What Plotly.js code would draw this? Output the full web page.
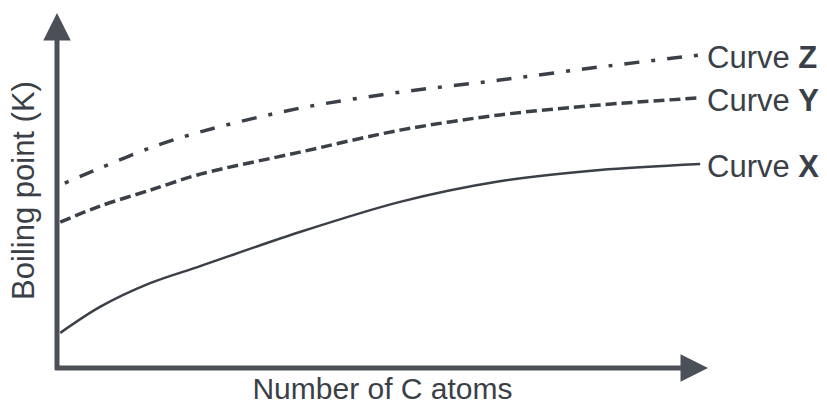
<!DOCTYPE html>
<html>
<head>
<meta charset="utf-8">
<script src="https://cdn.plot.ly/plotly-3.0.1.min.js"></script>
<style>html,body{margin:0;padding:0;background:#fff;}#chart{width:827px;height:405px;}</style>
</head>
<body>
<div id="chart"></div>
<script>
// Number of C atoms (arbitrary scale, no ticks in reference)
const carbonAtoms  = [0.05, 0.66, 1.43, 2.2, 3.73, 5.27, 6.8, 8.34, 9.88];
const carbonAtomsZ = [0.12, 0.66, 1.43, 2.2, 3.73, 5.27, 6.8, 8.34, 9.88];
// Boiling point (arbitrary scale)
const curveX = [9.9, 17.2, 23.9, 28.7, 38.3, 46.8, 52.6, 55.8, 57.5];
const curveY = [41.1, 45.6, 50.1, 54.6, 60.8, 67.0, 71.3, 74.1, 76.1];
const curveZ = [52.1, 56.3, 62.0, 66.5, 73.2, 77.7, 81.1, 84.8, 88.2];
const curveNames = ["X", "Y", "Z"];

const ink = "#3a3f48";
const font = "Liberation Sans, Arial, sans-serif";

const traces = [
  {x: carbonAtoms, y: curveX, name: "Curve X", mode: "lines",
   line: {color: ink, width: 2.5, shape: "spline", smoothing: 0.9}},
  {x: carbonAtoms, y: curveY, name: "Curve Y", mode: "lines",
   line: {color: ink, width: 3.5, shape: "spline", smoothing: 0.9, dash: "11px,5px"}},
  {x: carbonAtomsZ, y: curveZ, name: "Curve Z", mode: "lines",
   line: {color: ink, width: 3.5, shape: "spline", smoothing: 0.9, dash: "4px,12px,15px,12px"}}
];

const ends = [curveX, curveY, curveZ];
const labelAnns = curveNames.map((n, i) => ({
  x: carbonAtoms[carbonAtoms.length - 1], y: ends[i][ends[i].length - 1],
  xref: "x", yref: "y", xanchor: "left", yanchor: "middle", xshift: 5, yshift: -3,
  text: "Curve <b>" + n + "</b>", showarrow: false,
  font: {family: font, size: 31, color: ink}
}));

const axisArrows = [
  {x: 0, y: 100, ax: 0, ay: -1, xref: "x", yref: "y", axref: "x", ayref: "y",
   showarrow: true, arrowhead: 2, arrowwidth: 5, arrowsize: 1.1, arrowcolor: "#4a4f58", text: "", standoff: 0},
  {x: 10, y: 0, ax: -0.05, ay: 0, xref: "x", yref: "y", axref: "x", ayref: "y",
   showarrow: true, arrowhead: 2, arrowwidth: 5, arrowsize: 1.1, arrowcolor: "#4a4f58", text: "", standoff: 0}
];

const layout = {
  width: 827, height: 405,
  margin: {l: 57, r: 119, t: 13, b: 37},
  paper_bgcolor: "#fff", plot_bgcolor: "#fff",
  showlegend: false,
  xaxis: {range: [0, 10], showgrid: false, zeroline: false, showline: false,
          showticklabels: false, ticks: "", fixedrange: true,
          title: {text: "Number of C atoms", font: {family: font, size: 30, color: ink}, standoff: 16}},
  yaxis: {range: [0, 100], showgrid: false, zeroline: false, showline: false,
          showticklabels: false, ticks: "", fixedrange: true,
          title: {text: "Boiling point (K)", font: {family: font, size: 31, color: ink}, standoff: 12}},
  annotations: axisArrows.concat(labelAnns)
};

Plotly.newPlot("chart", traces, layout, {displayModeBar: false, staticPlot: true});
</script>
</body>
</html>
